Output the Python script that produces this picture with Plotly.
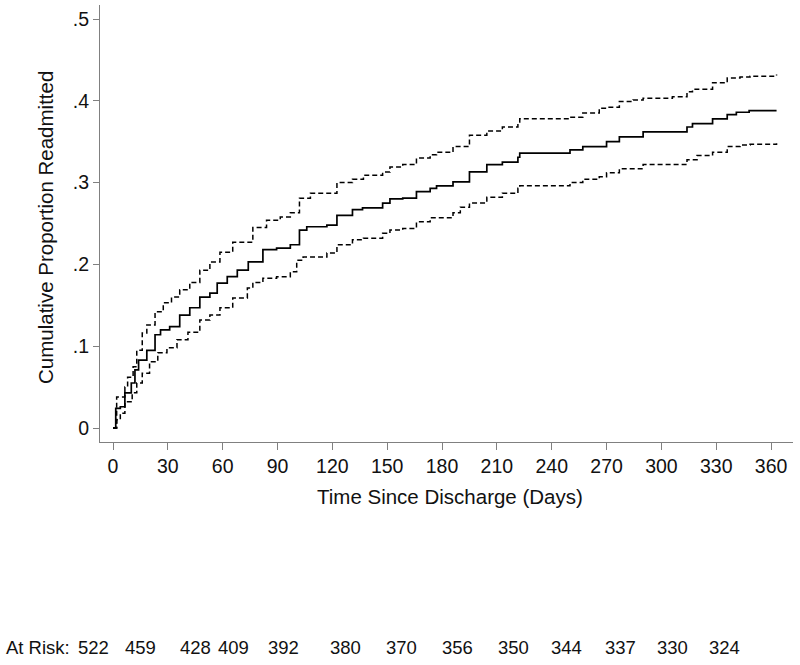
import plotly.graph_objects as go

# ---- data ----
days_est = [0, 1.5, 4, 6.5, 10, 12, 14, 18.5, 23, 26, 31, 36.5, 42, 47.5, 53, 57, 62.5, 68, 74,
            82, 89.5, 97, 102, 106, 117, 122.5, 131, 136.5, 147.5, 151.5, 158.5, 166, 173.5, 177,
            186, 195, 204.5, 213, 221.5, 222.5, 250, 257, 270, 277, 290, 314, 317, 328, 336, 341,
            348, 363]
est = [0, 0.024, 0.026, 0.043, 0.055, 0.071, 0.083, 0.095, 0.114, 0.120, 0.124, 0.138, 0.147,
       0.160, 0.165, 0.177, 0.185, 0.193, 0.203, 0.218, 0.220, 0.224, 0.242, 0.246, 0.248, 0.260,
       0.267, 0.269, 0.275, 0.280, 0.281, 0.289, 0.293, 0.296, 0.301, 0.313, 0.322, 0.325, 0.331,
       0.336, 0.340, 0.344, 0.350, 0.356, 0.362, 0.368, 0.372, 0.378, 0.383, 0.386, 0.388, 0.388]

days_up = [0, 2, 6.5, 8, 11, 13, 16, 18.5, 23, 27.5, 32, 36.5, 42, 47.5, 53, 58.5, 65.5, 76.5,
           84, 91.5, 97, 102, 108, 117, 122.5, 131, 137, 147.5, 151.5, 158.5, 166, 173.5, 177,
           186, 195, 204.5, 213, 221.5, 222.5, 250, 257, 266, 270, 277, 284.5, 290, 306, 314,
           317, 328, 336, 343, 348.5, 363]
upper = [0, 0.038, 0.050, 0.062, 0.075, 0.095, 0.116, 0.126, 0.142, 0.153, 0.160, 0.169, 0.178,
         0.193, 0.203, 0.215, 0.227, 0.245, 0.254, 0.258, 0.263, 0.281, 0.287, 0.287, 0.300,
         0.304, 0.309, 0.313, 0.319, 0.322, 0.330, 0.334, 0.337, 0.344, 0.358, 0.363, 0.368,
         0.374, 0.378, 0.380, 0.385, 0.391, 0.392, 0.399, 0.401, 0.403, 0.405, 0.411, 0.414,
         0.422, 0.428, 0.429, 0.430, 0.432]

days_lo = [0, 2, 4, 6.5, 10.5, 13, 16, 20, 24.5, 29.5, 35, 41, 47.5, 53, 58.5, 65.5, 73.5, 76.5,
           82, 89.5, 97, 100.5, 104, 117, 122.5, 131, 137, 147.5, 151.5, 158.5, 166, 173.5,
           186, 190, 195, 204.5, 213, 221.5, 222.5, 250, 257, 266, 270, 277, 290, 314, 319.5,
           328, 336, 343, 348.5, 363]
lower = [0, 0.010, 0.018, 0.032, 0.043, 0.055, 0.067, 0.081, 0.092, 0.098, 0.108, 0.117, 0.132,
         0.138, 0.147, 0.159, 0.171, 0.178, 0.183, 0.185, 0.191, 0.205, 0.209, 0.214, 0.224,
         0.230, 0.232, 0.238, 0.242, 0.244, 0.252, 0.257, 0.263, 0.270, 0.275, 0.282, 0.287,
         0.293, 0.296, 0.300, 0.304, 0.307, 0.312, 0.317, 0.322, 0.328, 0.333, 0.337, 0.344,
         0.346, 0.347, 0.348]

x_ticks = [0, 30, 60, 90, 120, 150, 180, 210, 240, 270, 300, 330, 360]
y_ticks = [0, 0.1, 0.2, 0.3, 0.4, 0.5]
y_ticklabels = ["0", ".1", ".2", ".3", ".4", ".5"]
at_risk = [522, 459, 428, 409, 392, 380, 370, 356, 350, 344, 337, 330, 324]

# ---- layout helpers ----
W, H = 800, 665
L, R, T, B = 100, 793, 5, 442          # plot area in pixels
at_risk_px = [93, 140, 195, 233, 283, 345, 401, 457, 513, 566, 620, 672, 724]


def px_x(p):
    return (p - L) / (R - L)


def px_y(p):
    return (B - p) / (B - T)


FONT = "Liberation Sans, Arial, sans-serif"
TXT = "#111111"

fig = go.Figure()
fig.add_trace(go.Scatter(x=days_up, y=upper, mode="lines", line_shape="hv",
                         line=dict(color="black", width=1.5, dash="5px,3px"), showlegend=False))
fig.add_trace(go.Scatter(x=days_lo, y=lower, mode="lines", line_shape="hv",
                         line=dict(color="black", width=1.5, dash="5px,3px"), showlegend=False))
fig.add_trace(go.Scatter(x=days_est, y=est, mode="lines", line_shape="hv",
                         line=dict(color="black", width=1.7), showlegend=False))

annotations = [
    dict(text="Cumulative Proportion Readmitted", xref="paper", yref="paper",
         x=px_x(45), y=px_y(228), xanchor="center", yanchor="middle", textangle=-90,
         showarrow=False, font=dict(size=20.5, color=TXT, family=FONT)),
    dict(text="Time Since Discharge (Days)", xref="paper", yref="paper",
         x=px_x(450), y=px_y(497), xanchor="center", yanchor="middle", showarrow=False,
         font=dict(size=20.5, color=TXT, family=FONT)),
    dict(text="At Risk:", xref="paper", yref="paper", x=px_x(4), y=px_y(647),
         xanchor="left", yanchor="middle", showarrow=False,
         font=dict(size=18.5, color=TXT, family=FONT)),
]
for n, p in zip(at_risk, at_risk_px):
    annotations.append(dict(text=str(n), xref="paper", yref="paper", x=px_x(p), y=px_y(647),
                            xanchor="center", yanchor="middle", showarrow=False,
                            font=dict(size=18.5, color=TXT, family=FONT)))

fig.update_layout(
    width=W, height=H,
    margin=dict(l=L, r=W - R, t=T, b=H - B),
    paper_bgcolor="white", plot_bgcolor="white",
    font=dict(family=FONT, color=TXT),
    annotations=annotations,
    xaxis=dict(range=[(L - 113) / 1.828, (R - 113) / 1.828], tickvals=x_ticks,
               showgrid=False, zeroline=False, showline=True, linecolor="#808080", linewidth=1,
               ticks="outside", ticklen=7, tickcolor="#808080", tickwidth=1,
               tickfont=dict(size=19.5, family=FONT, color=TXT)),
    yaxis=dict(range=[(428 - B) / 818, (428 - T) / 818], tickvals=y_ticks,
               ticktext=y_ticklabels, showgrid=False, zeroline=False, showline=True,
               linecolor="#808080", linewidth=1, ticks="outside", ticklen=6,
               tickcolor="#808080", tickwidth=1,
               tickfont=dict(size=19.5, family=FONT, color=TXT)),
)

fig.write_html("out.html", config={"displayModeBar": False},
               post_script="document.body.style.margin='0';document.body.style.overflow='hidden';")
